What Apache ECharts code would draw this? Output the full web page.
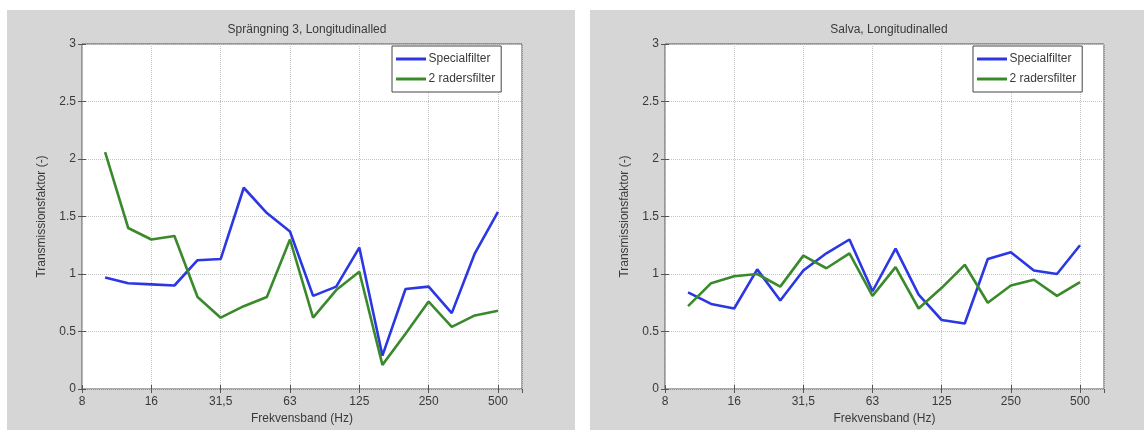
<!DOCTYPE html>
<html>
<head>
<meta charset="utf-8">
<script src="https://cdn.jsdelivr.net/npm/echarts@6/dist/echarts.min.js"></script>
<style>html,body{margin:0;padding:0;background:#fff;}#c{width:1144px;height:430px;}</style>
</head>
<body>
<div id="c"></div>
<script>
// Third-octave band labels; index 0 = 8 Hz
const bands = ['8','10','12,5','16','20','25','31,5','40','50','63','80','100','125','160','200','250','315','400','500'];
// Data starts at 10 Hz (band index 1) through 500 Hz (index 18)
const titles = ['Sprängning 3, Longitudinalled', 'Salva, Longitudinalled'];
const seriesNames = ['Specialfilter', '2 radersfilter'];
const leftSpecial = [0.97,0.92,0.91,0.90,1.12,1.13,1.75,1.53,1.37,0.81,0.89,1.23,0.29,0.87,0.89,0.66,1.18,1.54];
const leftTwoRow  = [2.06,1.40,1.30,1.33,0.80,0.62,0.72,0.80,1.30,0.62,0.86,1.02,0.21,0.48,0.76,0.54,0.64,0.68];
const rightSpecial = [0.84,0.74,0.70,1.04,0.77,1.03,1.18,1.30,0.85,1.22,0.82,0.60,0.57,1.13,1.19,1.03,1.00,1.25];
const rightTwoRow  = [0.72,0.92,0.98,1.00,0.89,1.16,1.05,1.18,0.81,1.06,0.70,0.88,1.08,0.75,0.90,0.95,0.81,0.93];

function toXY(arr){ return arr.map((v,i)=>[i+1, v]); }

const chart = echarts.init(document.getElementById('c'), null, {renderer:'canvas'});
const FONT = 'Liberation Sans';
const TXT = '#3a3a3a';
const grids = [
  {left:82, top:44, width:440, height:345},
  {left:665, top:44, width:439, height:345}
];
const xAxes = [], yAxes = [];
grids.forEach((g, gi) => {
  xAxes.push({
    type:'value', gridIndex:gi, min:0, max:19.04, interval:3,
    name:'Frekvensband (Hz)', nameLocation:'middle', nameGap:22,
    nameTextStyle:{color:TXT, fontSize:12, fontFamily:FONT},
    axisLine:{show:false},
    axisTick:{show:true, inside:true, length:4, lineStyle:{color:'#555'}},
    axisLabel:{color:TXT, fontSize:12, fontFamily:FONT, margin:7, showMaxLabel:false,
      formatter:v => (Math.abs(v % 3) < 1e-6 && v <= 18) ? bands[Math.round(v)] : ''},
    splitLine:{show:true, lineStyle:{color:'#c4c4c4', type:'dotted', width:1}}
  });
  xAxes.push({
    type:'value', gridIndex:gi, position:'top', min:0, max:19.04, interval:3,
    axisLine:{show:false}, axisLabel:{show:false}, splitLine:{show:false},
    axisTick:{show:true, inside:true, length:4, lineStyle:{color:'#555'}}
  });
  yAxes.push({
    type:'value', gridIndex:gi, min:0, max:3, interval:0.5,
    name:'Transmissionsfaktor (-)', nameLocation:'middle', nameGap:34, nameRotate:90,
    nameTextStyle:{color:TXT, fontSize:12, fontFamily:FONT},
    axisLine:{show:false},
    axisTick:{show:true, inside:true, length:4, lineStyle:{color:'#555'}},
    axisLabel:{color:TXT, fontSize:12, fontFamily:FONT, margin:6},
    splitLine:{show:true, lineStyle:{color:'#c4c4c4', type:'dotted', width:1}}
  });
  yAxes.push({
    type:'value', gridIndex:gi, position:'right', min:0, max:3, interval:0.5,
    axisLine:{show:false}, axisLabel:{show:false}, splitLine:{show:false},
    axisTick:{show:true, inside:true, length:4, lineStyle:{color:'#555'}}
  });
});

const BLUE = '#2b37e2', GREEN = '#3a8a2c';
const dataSets = [[leftSpecial, leftTwoRow],[rightSpecial, rightTwoRow]];
const series = [];
dataSets.forEach((pair, gi) => {
  pair.forEach((arr, si) => {
    series.push({
      type:'line', name:seriesNames[si], xAxisIndex:gi*2, yAxisIndex:gi*2,
      data:toXY(arr), symbol:'none', silent:true,
      lineStyle:{width:2.6, color: si===0?BLUE:GREEN},
      itemStyle:{color: si===0?BLUE:GREEN}
    });
  });
});

const legendCommon = {
  orient:'vertical', top:46, data:seriesNames,
  icon:'path://M0,0H10V1H0Z', itemWidth:33, itemHeight:3, itemGap:8,
  backgroundColor:'#fff', borderColor:'#444', borderWidth:1, borderRadius:0,
  padding:[7,6,7,4],
  textStyle:{color:TXT, fontSize:12, fontFamily:FONT, padding:[0,0,0,-4]},
  selectedMode:false
};

chart.setOption({
  animation:false,
  backgroundColor:'#ffffff',
  graphic:[
    {type:'rect', shape:{x:7, y:10, width:568, height:420}, style:{fill:'#d6d6d6'}, z:-10},
    {type:'rect', shape:{x:590, y:10, width:554, height:420}, style:{fill:'#d6d6d6'}, z:-10}
  ],
  title:[
    {text:titles[0], left:302, top:19, textAlign:'center', textStyle:{color:TXT, fontSize:12, fontWeight:'normal', fontFamily:FONT}},
    {text:titles[1], left:884, top:19, textAlign:'center', textStyle:{color:TXT, fontSize:12, fontWeight:'normal', fontFamily:FONT}}
  ],
  legend:[
    Object.assign({}, legendCommon, {left:392}),
    Object.assign({}, legendCommon, {left:973})
  ],
  grid: grids.map(g => Object.assign({}, g, {show:true, backgroundColor:'#fff', borderColor:'#555', borderWidth:1})),
  xAxis:xAxes,
  yAxis:yAxes,
  series:series
});
</script>
</body>
</html>
